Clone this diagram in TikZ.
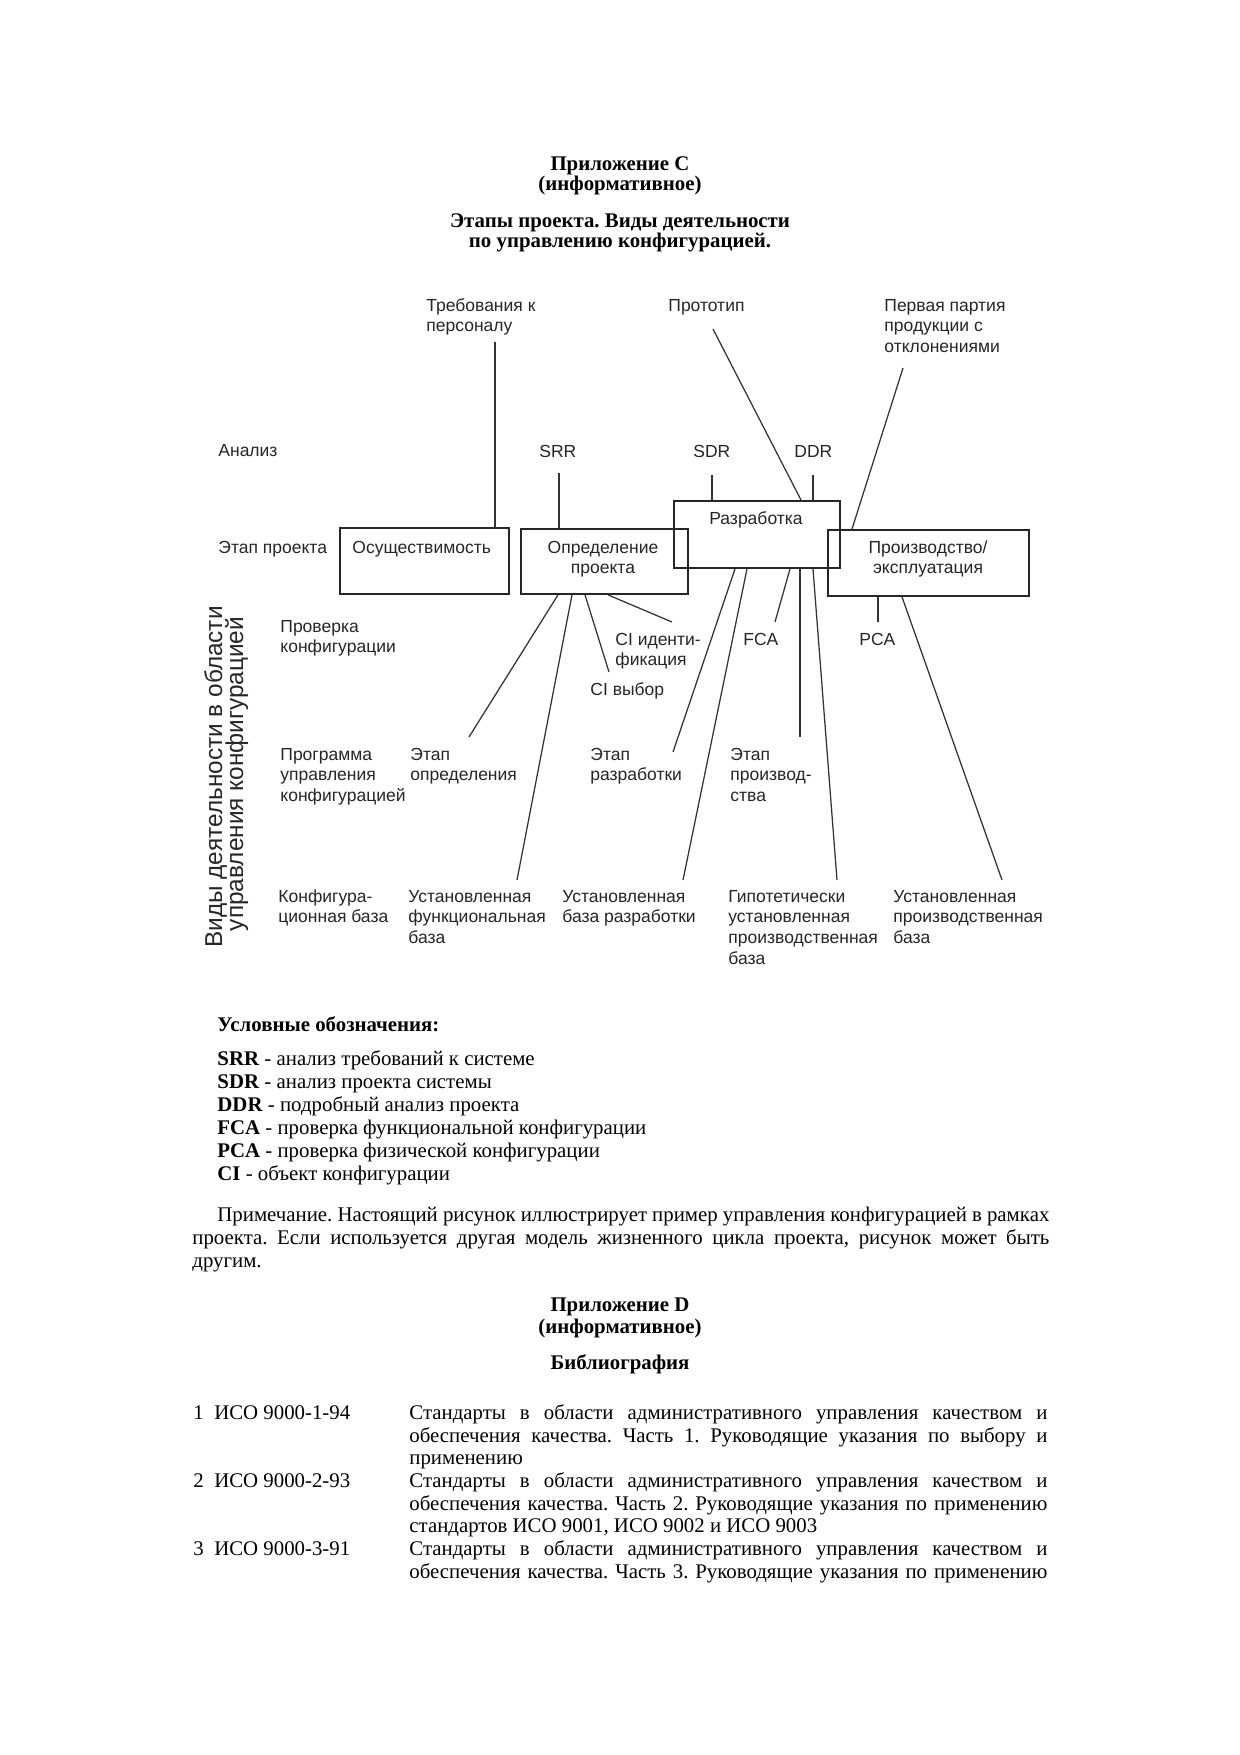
\documentclass[tikz,border=0pt]{standalone}
\usepackage{fontspec}
\setmainfont{Liberation Serif}
\newfontfamily\diagfont{Liberation Sans}
\newcommand{\px}[1]{#1*0.48pt}
\newcommand{\ml}[1]{\begin{tabular}[t]{@{}l@{}}#1\end{tabular}}
\newcommand{\mlc}[1]{\begin{tabular}[t]{@{}c@{}}#1\end{tabular}}
\frenchspacing
\begin{document}
\begin{tikzpicture}[x=0.48pt,y=-0.48pt,
  dtext/.style={font=\diagfont\fontsize{8.4}{10}\selectfont, text=black!85, inner sep=0pt, anchor=base west},
  rtext/.style={font=\diagfont\fontsize{11.7}{12}\selectfont, text=black!85, inner sep=0pt, anchor=base, rotate=90},
  stagebox/.style={draw=black!85, line width=0.9pt, inner sep=0pt, anchor=north west},
  conn/.style={draw=black!80, line width=0.6pt},
  body/.style={font=\frenchspacing\fontsize{10}{11}\selectfont, inner sep=0pt, anchor=base west},
  ttl/.style={font=\bfseries\fontsize{10}{11}\selectfont, inner sep=0pt, anchor=base},
]
\fill[white] (0,0) rectangle (1240,1755);
\useasboundingbox (0,0) rectangle (1240,1755);

% ---- headings
\node[ttl] (h1) at (620,170) {Приложение C};
\node[ttl] (h2) at (620,190) {(информативное)};
\node[ttl] (h3) at (620,227) {Этапы проекта. Виды деятельности};
\node[ttl] (h4) at (620,247) {по управлению конфигурацией.};

% ---- diagram labels
\node[dtext] (treb) at (426,311) {\ml{Требования к\\персоналу}};
\node[dtext] (proto) at (668,311) {Прототип};
\node[dtext] (perv) at (884,311) {\ml{Первая партия\\продукции с\\отклонениями}};
\node[dtext] (anal) at (218,456) {Анализ};
\node[dtext] (srr) at (539,457) {SRR};
\node[dtext] (sdr) at (693,457) {SDR};
\node[dtext] (ddr) at (794,457) {DDR};
\node[dtext] (etap) at (218,553) {Этап проекта};

% ---- stage boxes
\node[stagebox, minimum width=\px{169}, minimum height=\px{66}] (osu) at (339,527) {};
\node[stagebox, minimum width=\px{167}, minimum height=\px{65}] (opr) at (520,528) {};
\node[stagebox, minimum width=\px{166}, minimum height=\px{67}] (razr) at (673,500) {};
\node[stagebox, minimum width=\px{201}, minimum height=\px{66}] (proizv) at (827,529) {};

\node[dtext] (osut) at (352,553) {Осуществимость};
\node[dtext, anchor=base] (oprt) at (603,553) {\mlc{Определение\\проекта}};
\node[dtext, anchor=base] (razrt) at (756,524) {Разработка};
\node[dtext, anchor=base] (proizvt) at (928,553) {\mlc{Производство/\\эксплуатация}};

% ---- activity labels
\node[rtext] (vid1) at (222,777) {Виды деятельности в области};
\node[rtext] (vid2) at (243,774) {управления конфигурацией};
\node[dtext] (prov) at (280,632) {\ml{Проверка\\конфигурации}};
\node[dtext] (prog) at (280,760) {\ml{Программа\\управления\\конфигурацией}};
\node[dtext] (konf) at (278,902) {\ml{Конфигура-\\ционная база}};
\node[dtext] (ciid) at (615,645) {\ml{CI иденти-\\фикация}};
\node[dtext] (civ) at (590,695) {CI выбор};
\node[dtext] (fca) at (743,645) {FCA};
\node[dtext] (pca) at (859,645) {PCA};
\node[dtext] (eopr) at (410,760) {\ml{Этап\\определения}};
\node[dtext] (erazr) at (590,760) {\ml{Этап\\разработки}};
\node[dtext] (eproizv) at (730,760) {\ml{Этап\\производ-\\ства}};
\node[dtext] (ufb) at (408,902) {\ml{Установленная\\функциональная\\база}};
\node[dtext] (ubr) at (562,902) {\ml{Установленная\\база разработки}};
\node[dtext] (gip) at (728,902) {\ml{Гипотетически\\установленная\\производственная\\база}};
\node[dtext] (upb) at (893,902) {\ml{Установленная\\производственная\\база}};

% ---- connector free ends
\coordinate (c-treb) at (495,342);
\coordinate (c-srr) at (559,473);
\coordinate (c-proto) at (713,329);
\coordinate (c-perv) at (903,368);
\coordinate (c-sdr) at (712,475);
\coordinate (c-ddr) at (813,475);
\coordinate (c-eopr) at (469,737);
\coordinate (c-ufb) at (517,880);
\coordinate (c-civ) at (609,672);
\coordinate (c-ciid) at (672,622);
\coordinate (c-erazr) at (673,752);
\coordinate (c-ubr) at (683,880);
\coordinate (c-fca) at (775,622);
\coordinate (c-eproizv) at (800,737);
\coordinate (c-gip) at (837,880);
\coordinate (c-pca) at (878,622);
\coordinate (c-upb) at (1002,880);

% ---- connectors
\draw[conn] (c-treb) -- ([xshift=\px{156}]osu.north west);
\draw[conn] (c-srr) -- ([xshift=\px{39}]opr.north west);
\draw[conn] (c-proto) -- ([xshift=\px{128}]razr.north west);
\draw[conn] (c-perv) -- ([xshift=\px{25}]proizv.north west);
\draw[conn] (c-sdr) -- ([xshift=\px{39}]razr.north west);
\draw[conn] (c-ddr) -- ([xshift=\px{140}]razr.north west);
\draw[conn] ([xshift=\px{38}]opr.south west) -- (c-eopr);
\draw[conn] ([xshift=\px{52}]opr.south west) -- (c-ufb);
\draw[conn] ([xshift=\px{65}]opr.south west) -- (c-civ);
\draw[conn] ([xshift=\px{88}]opr.south west) -- (c-ciid);
\draw[conn] ([xshift=\px{62}]razr.south west) -- (c-erazr);
\draw[conn] ([xshift=\px{74}]razr.south west) -- (c-ubr);
\draw[conn] ([xshift=\px{117}]razr.south west) -- (c-fca);
\draw[conn] ([xshift=\px{127}]razr.south west) -- (c-eproizv);
\draw[conn] ([xshift=\px{140}]razr.south west) -- (c-gip);
\draw[conn] ([xshift=\px{51}]proizv.south west) -- (c-pca);
\draw[conn] ([xshift=\px{75}]proizv.south west) -- (c-upb);

% ---- legend
\node[body] (leg0) at (217,1031) {\textbf{Условные обозначения:}};
\node[body] (leg1) at (217,1065) {\textbf{SRR} - анализ требований к системе};
\node[body] (leg2) at (217,1088) {\textbf{SDR} - анализ проекта системы};
\node[body] (leg3) at (217,1111) {\textbf{DDR} - подробный анализ проекта};
\node[body] (leg4) at (217,1134) {\textbf{FCA} - проверка функциональной конфигурации};
\node[body] (leg5) at (217,1157) {\textbf{PCA} - проверка физической конфигурации};
\node[body] (leg6) at (217,1180) {\textbf{CI} - объект конфигурации};

% ---- note
\node[body] (note1) at (217,1221) {\makebox[399.36pt][s]{Примечание. Настоящий рисунок иллюстрирует пример управления конфигурацией в рамках}};
\node[body] (note2) at (192,1244) {\makebox[411.36pt][s]{проекта. Если используется другая модель жизненного цикла проекта, рисунок может быть}};
\node[body] (note3) at (192,1267) {другим.};

% ---- appendix D
\node[ttl] (d1) at (620,1311) {Приложение D};
\node[ttl] (d2) at (620,1333) {(информативное)};
\node[ttl] (d3) at (620,1369) {Библиография};

\node[body] (b1n) at (193,1419) {1~~ИСО 9000-1-94};
\node[body] (b1a) at (409,1419) {\makebox[306.24pt][s]{Стандарты в области административного управления качеством и}};
\node[body] (b1b) at (409,1442) {\makebox[306.24pt][s]{обеспечения качества. Часть 1. Руководящие указания по выбору и}};
\node[body] (b1c) at (409,1464) {применению};
\node[body] (b2n) at (193,1487) {2~~ИСО 9000-2-93};
\node[body] (b2a) at (409,1487) {\makebox[306.24pt][s]{Стандарты в области административного управления качеством и}};
\node[body] (b2b) at (409,1510) {\makebox[306.24pt][s]{обеспечения качества. Часть 2. Руководящие указания по применению}};
\node[body] (b2c) at (409,1532) {стандартов ИСО 9001, ИСО 9002 и ИСО 9003};
\node[body] (b3n) at (193,1555) {3~~ИСО 9000-3-91};
\node[body] (b3a) at (409,1555) {\makebox[306.24pt][s]{Стандарты в области административного управления качеством и}};
\node[body] (b3b) at (409,1578) {\makebox[306.24pt][s]{обеспечения качества. Часть 3. Руководящие указания по применению}};
\end{tikzpicture}
\end{document}
